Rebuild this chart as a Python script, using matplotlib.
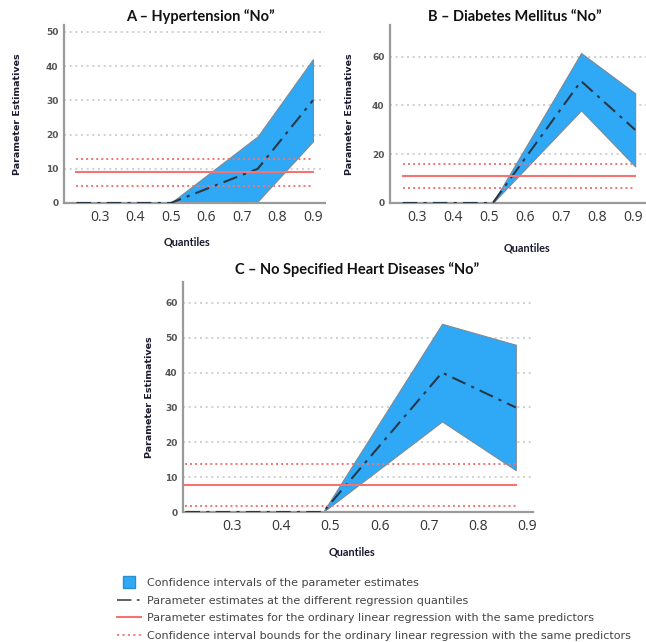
import matplotlib
matplotlib.use("Agg")
import matplotlib.pyplot as plt
from matplotlib.lines import Line2D

W, H = 646, 642

# ---------------- data ----------------
titles = ["A – Hypertension “No”", "B – Diabetes Mellitus “No”",
          "C – No Specified Heart Diseases “No”"]

q_A = [0.235, 0.5, 0.745, 0.9]
est_A = [0, 0, 10, 30]
low_A = [0, 0, 0.5, 18]
up_A = [0, 0, 19.5, 42]
ols_A = [9, 5, 13]  # estimate, lower, upper

q_B = [0.26, 0.51, 0.755, 0.905]
est_B = [0, 0, 50, 30]
low_B = [0, 0, 38, 15]
up_B = [0, 0, 61.5, 45]
ols_B = [11, 6, 16]

q_C = [0.205, 0.485, 0.727, 0.877]
est_C = [0, 0, 40, 30]
low_C = [0, 0, 26, 12]
up_C = [0, 0, 54, 48]
ols_C = [7.7, 1.6, 13.8]

xticks = [0.3, 0.4, 0.5, 0.6, 0.7, 0.8, 0.9]
yticks_A = [0, 10, 20, 30, 40, 50]
yticks_B = [0, 20, 40, 60]
yticks_C = [0, 10, 20, 30, 40, 50, 60]

legend_labels = ["Confidence intervals of the parameter estimates",
                 "Parameter estimates at the different regression quantiles",
                 "Parameter estimates for the ordinary linear regression with the same predictors",
                 "Confidence interval bounds for the ordinary linear regression with the same predictors"]

BLUE = "#2FA9F6"
EST = "#263848"
RED = "#F47474"
GRID = "#C8C8C8"

plt.rcParams['font.family'] = ['DejaVu Sans']

fig = plt.figure(figsize=(W / 100, H / 100), dpi=100)


def rect(l, t, r, b):
    return [l / W, 1 - b / H, (r - l) / W, (b - t) / H]


def panel(r, q, est, low, up, ols, yticks, ylim, xlim, title, title_xy, xlab_xy, ylab_x):
    ax = fig.add_axes(rect(*r))
    for yv in yticks[1:]:
        ax.axhline(yv, color=GRID, lw=1.2, ls=(0, (1.2, 2.2)), zorder=0)
    ax.fill_between(q, low, up, color=BLUE, edgecolor="#7a8a96", lw=0.8, zorder=2)
    ax.plot(q, est, color=EST, lw=1.5, ls=(0, (7, 3, 1.5, 3)), zorder=3)
    ax.plot([q[0], q[-1]], [ols[0], ols[0]], color=RED, lw=1.5, zorder=4)
    for v in ols[1:]:
        ax.plot([q[0], q[-1]], [v, v], color=RED, lw=1.4, ls=(0, (1, 1.6)), zorder=4)
    ax.set_xlim(*xlim)
    ax.set_ylim(*ylim)
    ax.set_xticks(xticks)
    ax.set_xticklabels([f"{t:.1f}" for t in xticks], fontsize=10, color="#333333",
                       family=["Open Sans", "DejaVu Sans"])
    ax.set_yticks(yticks)
    ax.set_yticklabels([str(t) for t in yticks], fontsize=6.5, color="#555555", fontweight="bold")
    ax.tick_params(length=0, pad=5)
    ax.tick_params(axis='y', pad=4)
    for s in ["top", "right"]:
        ax.spines[s].set_visible(False)
    for s in ["left", "bottom"]:
        ax.spines[s].set_color("#9a9a9a")
        ax.spines[s].set_linewidth(1.6)
    ax.patch.set_alpha(0)
    fig.text(title_xy[0] / W, 1 - title_xy[1] / H, title, ha="center", va="center",
             fontsize=10.5, fontweight="bold", color="#111111", family=["Lato", "DejaVu Sans"])
    fig.text(xlab_xy[0] / W, 1 - xlab_xy[1] / H, "Quantiles", ha="center", va="center",
             fontsize=7.8, fontweight="bold", color="#1a1a2e", family=["Lato", "DejaVu Sans"])
    yc = (r[1] + r[3]) / 2
    fig.text(ylab_x / W, 1 - yc / H, "Parameter Estimatives", ha="center", va="center",
             rotation=90, fontsize=6.8, fontweight="bold", color="#1a1a2e")
    return ax


panel((64, 25, 325, 203), q_A, est_A, low_A, up_A, ols_A, yticks_A, (0, 52),
      (0.2, 0.934), titles[0], (200, 17), (187, 242), 18)
panel((390, 25, 646, 203), q_B, est_B, low_B, up_B, ols_B, yticks_B, (0, 73),
      (0.225, 0.935), titles[1], (515, 17), (527, 248), 350)
panel((183, 282, 533, 512), q_C, est_C, low_C, up_C, ols_C, yticks_C, (0, 66),
      (0.2, 0.912), titles[2], (357, 270), (352, 552), 150)

handles = [Line2D([], [], marker='s', markersize=9.3, color=BLUE, markeredgecolor="#2a8fd0", ls='none'),
           Line2D([], [], color="#555555", lw=1.3, ls=(0, (8, 3, 1.5, 3))),
           Line2D([], [], color=RED, lw=1.5),
           Line2D([], [], color=RED, lw=1.3, ls=(0, (1.2, 1.8)))]
fig.legend(handles, legend_labels, loc="upper left", bbox_to_anchor=(117 / W, 1 - 578 / H),
           frameon=False, handlelength=2.2, handletextpad=0.5,
           labelspacing=0.68, labelcolor="#444444", borderaxespad=0, borderpad=0,
           prop={"family": ["DejaVu Sans"], "size": 8})

fig.savefig("out.png", dpi=100)
